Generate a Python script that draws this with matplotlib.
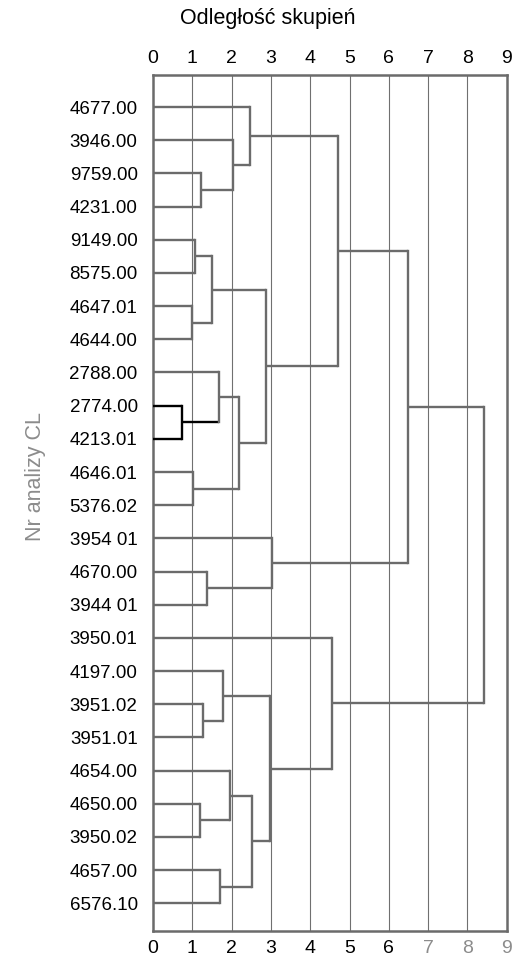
import matplotlib.pyplot as plt
import numpy as np

plt.rcParams['font.family'] = ['Liberation Sans', 'DejaVu Sans']

# leaf labels, top to bottom
labels = ['4677.00', '3946.00', '9759.00', '4231.00', '9149.00', '8575.00',
          '4647.01', '4644.00', '2788.00', '2774.00', '4213.01', '4646.01',
          '5376.02', '3954 01', '4670.00', '3944 01', '3950.01', '4197.00',
          '3951.02', '3951.01', '4654.00', '4650.00', '3950.02', '4657.00',
          '6576.10']

# merges: (child a, child b, distance); new nodes numbered from len(labels)
merge_a = [2, 1, 0, 4, 6, 28, 9, 8, 11, 32, 30, 27, 14, 13, 36,
           18, 17, 21, 20, 23, 43, 41, 16, 39]
merge_b = [3, 25, 26, 5, 7, 29, 10, 31, 12, 33, 34, 35, 15, 37, 38,
           19, 40, 22, 42, 24, 44, 45, 46, 47]
merge_h = [1.22, 2.04, 2.47, 1.07, 0.99, 1.50, 0.74, 1.68, 1.02, 2.19, 2.88,
           4.71, 1.37, 3.03, 6.49, 1.27, 1.78, 1.20, 1.96, 1.70, 2.52, 2.98,
           4.55, 8.42]

xticks = list(range(10))

LINE = '#6b6b6b'
dark_nodes = {31}


def main():
    fig = plt.figure(figsize=(5.15, 9.64), dpi=100)
    ax = fig.add_axes([0.297, 0.034, 0.687, 0.888])

    n = len(labels)
    ypos = {i: float(i) for i in range(n)}
    hgt = {i: 0.0 for i in range(n)}

    for k in range(len(merge_a)):
        node = n + k
        a, b, h = merge_a[k], merge_b[k], merge_h[k]
        col = 'black' if node in dark_nodes else LINE
        for c in (a, b):
            ccol = 'black' if (c in dark_nodes or node in dark_nodes) else LINE
            ax.plot([hgt[c], h], [ypos[c], ypos[c]], color=ccol, lw=1.7,
                    solid_capstyle='butt', zorder=3)
        ax.plot([h, h], [ypos[a], ypos[b]], color=col, lw=1.7, zorder=3)
        ypos[node] = (ypos[a] + ypos[b]) / 2
        hgt[node] = h

    for x in xticks[1:-1]:
        ax.axvline(x, color='#707070', lw=0.8, zorder=1)

    ax.set_xlim(0, 9)
    ax.set_ylim(n - 1 + 0.84, -0.96)
    ax.set_yticks(range(n))
    ax.set_yticklabels(labels, fontsize=13.5)
    ax.tick_params(axis='y', length=0, pad=11)

    # bottom axis
    ax.set_xticks(xticks)
    ax.set_xticklabels([str(x) for x in xticks], fontsize=14)
    ax.tick_params(axis='x', length=0, pad=6)
    for i, lab in enumerate(ax.get_xticklabels()):
        lab.set_color('#8c8c8c' if i >= 7 else 'black')

    # top axis
    top = ax.secondary_xaxis('top')
    top.set_xticks(xticks)
    top.set_xticklabels([str(x) for x in xticks], fontsize=14, color='black')
    top.tick_params(axis='x', length=0, pad=6)
    top.spines['top'].set_visible(False)

    for s in ax.spines.values():
        s.set_color(LINE)
        s.set_linewidth(1.8)

    fig.text(0.52, 0.981, 'Odległość skupień', fontsize=15.5,
             ha='center', va='center')
    fig.text(0.068, 0.506, 'Nr analizy CL', fontsize=15.5, color='#8c8c8c',
             rotation=90, ha='center', va='center')

    fig.savefig('out.png', dpi=100, facecolor='white')


if __name__ == '__main__':
    main()
